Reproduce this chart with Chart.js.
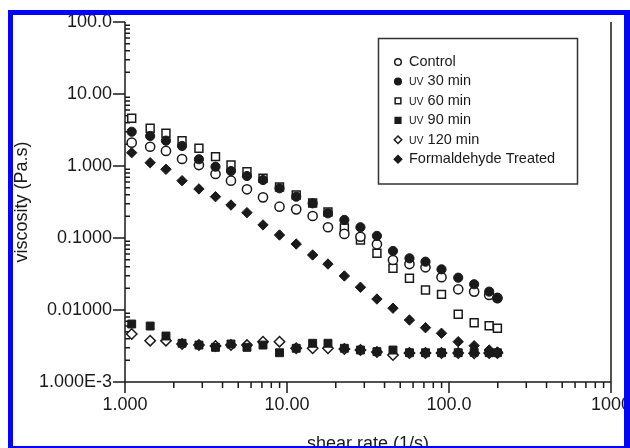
<!DOCTYPE html>
<html>
<head>
<meta charset="utf-8">
<script src="https://cdn.jsdelivr.net/npm/chart.js@4.4.0/dist/chart.umd.min.js"></script>
<style>
  html, body { margin: 0; padding: 0; background: #fff; overflow: hidden; }
  #wrap { position: relative; width: 630px; height: 448px; overflow: hidden; }
  #wrap canvas { position: absolute; left: 0; top: 0; }
  #frame {
    position: absolute; left: 8px; top: 10px; right: 0; bottom: 0;
    border-style: solid; border-color: #0505f5;
    border-width: 5px 6px 2px 5px;
    pointer-events: none;
  }
</style>
</head>
<body>
<div id="wrap">
  <canvas id="grafico" width="630" height="455"></canvas>
  <div id="frame"></div>
</div>
<script>
// shear rate (1/s), same for every series
const shearRate = [1.10, 1.43, 1.79, 2.25, 2.86, 3.62, 4.51, 5.66, 7.11, 8.99, 11.4, 14.4,
                   17.9, 22.6, 28.4, 35.9, 45.1, 57.0, 71.6, 89.9, 114, 143, 177, 199];

// viscosity (Pa.s)
const control = [2.11, 1.85, 1.62, 1.25, 1.03, 0.774, 0.625, 0.475, 0.367, 0.272, 0.250, 0.202,
                 0.141, 0.114, 0.104, 0.0818, 0.0495, 0.0435, 0.0392, 0.0285, 0.0194, 0.0180, 0.0162, 0.0147];
const uv30 = [2.99, 2.61, 2.25, 1.90, 1.24, 0.978, 0.852, 0.726, 0.639, 0.490, 0.375, 0.303,
              0.220, 0.178, 0.141, 0.107, 0.0660, 0.0522, 0.0469, 0.0367, 0.0281, 0.0228, 0.0180, 0.0145];
const uv60 = [4.60, 3.34, 2.85, 2.25, 1.76, 1.35, 1.03, 0.833, 0.675, 0.511, 0.396, 0.306,
              0.230, 0.138, 0.0938, 0.0613, 0.0380, 0.0276, 0.0190, 0.0165, 0.00872, 0.00666, 0.00605, 0.00557];
const uv90 = [0.00639, 0.00599, 0.00435, 0.00345, 0.00326, 0.00303, 0.00337, 0.00303, 0.00326, 0.00255, 0.00294, 0.00345,
              0.00345, 0.00294, 0.00278, 0.00264, 0.00278, 0.00255, 0.00255, 0.00255, 0.00255, 0.00258, 0.00255, 0.00255];
const uv120 = [0.00464, 0.00375, 0.00375, 0.00337, 0.00326, 0.00316, 0.00326, 0.00326, 0.00363, 0.00363, 0.00294, 0.00294,
               0.00294, 0.00287, 0.00278, 0.00261, 0.00237, 0.00253, 0.00253, 0.00253, 0.00253, 0.00250, 0.00253, 0.00253];
const formaldehyde = [1.53, 1.11, 0.900, 0.625, 0.480, 0.375, 0.287, 0.225, 0.152, 0.110, 0.0825, 0.0581,
                      0.0435, 0.0297, 0.0207, 0.0142, 0.0106, 0.00726, 0.00568, 0.00475, 0.00363, 0.00319, 0.00278, 0.00261];

const xDecades = [1, 10, 100, 1000];
const xTickLabels = ['1.000', '10.00', '100.0', '1000'];
const yDecades = [0.001, 0.01, 0.1, 1, 10, 100];
const yTickLabels = ['1.000E-3', '0.01000', '0.1000', '1.000', '10.00', '100.0'];

const FONT = "'Liberation Sans', Arial, sans-serif";
const INK = '#1a1a1a';
Chart.defaults.font.family = FONT;
Chart.defaults.color = INK;

// ticks 1..9 in every decade
function logTicks(decades) {
    const ticks = [];
    decades.forEach((d, i) => {
        if (i === decades.length - 1) {
            ticks.push({ value: d });
            return;
        }
        for (let k = 1; k <= 9; k++) ticks.push({ value: d * k });
    });
    return ticks;
}

function toPoints(values) {
    return shearRate.map((x, i) => ({ x: x, y: values[i] }));
}

const radios = { circle: 4.6, rect: 5.6, rectRot: 5.2 };

function serie(label, values, style, filled, order) {
    return {
        label: label,
        data: toPoints(values),
        showLine: false,
        pointStyle: style,
        pointRadius: radios[style],
        pointBackgroundColor: filled ? INK : '#fff',
        pointBorderColor: INK,
        pointBorderWidth: filled ? 1 : 1.5,
        order: order
    };
}

// ejes, marcas y leyenda dibujados a mano
const ejesYLeyenda = {
    id: 'ejesYLeyenda',
    beforeDatasetsDraw(chart) {
        const { ctx, chartArea: a, scales: { x, y } } = chart;
        ctx.save();
        ctx.strokeStyle = INK;
        ctx.lineWidth = 1.5;
        ctx.beginPath();
        ctx.moveTo(a.left, a.top);
        ctx.lineTo(a.left, a.bottom);
        ctx.lineTo(a.right, a.bottom);
        ctx.lineTo(a.right, a.top);
        y.ticks.forEach(t => {
            const py = y.getPixelForValue(t.value);
            if (yDecades.includes(t.value)) {
                ctx.moveTo(a.left - 12, py);
                ctx.lineTo(a.left, py);
            } else {
                ctx.moveTo(a.left, py);
                ctx.lineTo(a.left + 5, py);
            }
        });
        x.ticks.forEach(t => {
            const px = x.getPixelForValue(t.value);
            const len = xDecades.includes(t.value) ? 11 : 6;
            ctx.moveTo(px, a.bottom);
            ctx.lineTo(px, a.bottom + len);
        });
        ctx.stroke();
        ctx.restore();
    },
    afterDatasetsDraw(chart) {
        const ctx = chart.ctx;
        ctx.save();
        ctx.strokeStyle = '#333';
        ctx.lineWidth = 1.5;
        ctx.strokeRect(378.5, 38.5, 199, 145.5);
        ctx.textBaseline = 'middle';
        ctx.textAlign = 'left';
        chart.data.datasets.forEach((d, i) => {
            const cy = 62 + i * 19.45;
            ctx.fillStyle = d.pointBackgroundColor;
            ctx.strokeStyle = INK;
            Chart.helpers.drawPoint(ctx, {
                pointStyle: d.pointStyle,
                radius: d.pointRadius * 0.72,
                borderWidth: d.pointBorderWidth,
                rotation: 0
            }, 398, cy);
            ctx.fillStyle = INK;
            let tx = 409;
            let texto = d.label;
            if (texto.startsWith('UV ')) {
                ctx.font = '10.5px ' + FONT;
                ctx.fillText('UV', tx, cy + 1);
                tx += ctx.measureText('UV').width;
                texto = texto.slice(2);
            }
            ctx.font = '14.5px ' + FONT;
            ctx.fillText(texto, tx, cy);
        });
        ctx.restore();
    }
};

const ctx = document.getElementById('grafico').getContext('2d');
const chart = new Chart(ctx, {
    type: 'scatter',
    data: {
        datasets: [
            serie('Control', control, 'circle', false, 3),
            serie('UV 30 min', uv30, 'circle', true, 1),
            serie('UV 60 min', uv60, 'rect', false, 4),
            serie('UV 90 min', uv90, 'rect', true, 2),
            serie('UV 120 min', uv120, 'rectRot', false, 5),
            serie('Formaldehyde Treated', formaldehyde, 'rectRot', true, 0)
        ]
    },
    options: {
        responsive: false,
        animation: false,
        events: [],
        layout: { autoPadding: false, padding: { left: 0, top: 22, right: 19, bottom: 0 } },
        plugins: { legend: { display: false }, tooltip: { enabled: false } },
        scales: {
            x: {
                type: 'logarithmic',
                position: 'bottom',
                min: 1,
                max: 1000,
                afterBuildTicks: s => { s.ticks = logTicks(xDecades); },
                afterFit: s => {
                    s.height = 455 - 382;
                    s.paddingLeft = 0;
                    s.paddingRight = 0;
                },
                grid: { display: false, drawTicks: false },
                border: { display: false },
                ticks: {
                    autoSkip: false,
                    maxRotation: 0,
                    padding: 12,
                    font: { size: 18 },
                    callback: v => {
                        const i = xDecades.indexOf(v);
                        return i < 0 ? '' : xTickLabels[i];
                    }
                },
                title: { display: true, text: 'shear rate (1/s)', font: { size: 18 }, padding: 0 }
            },
            y: {
                type: 'logarithmic',
                position: 'left',
                min: 0.001,
                max: 100,
                afterBuildTicks: s => { s.ticks = logTicks(yDecades); },
                afterFit: s => {
                    s.width = 125;
                    s.paddingTop = 0;
                    s.paddingBottom = 0;
                },
                grid: { display: false, drawTicks: false },
                border: { display: false },
                ticks: {
                    autoSkip: false,
                    padding: 13,
                    font: { size: 18 },
                    callback: v => {
                        const i = yDecades.indexOf(v);
                        return i < 0 ? '' : yTickLabels[i];
                    }
                },
                title: { display: true, text: 'viscosity (Pa.s)', font: { size: 18 }, padding: { top: 11, bottom: 0 } }
            }
        }
    },
    plugins: [ejesYLeyenda]
});
</script>
</body>
</html>
